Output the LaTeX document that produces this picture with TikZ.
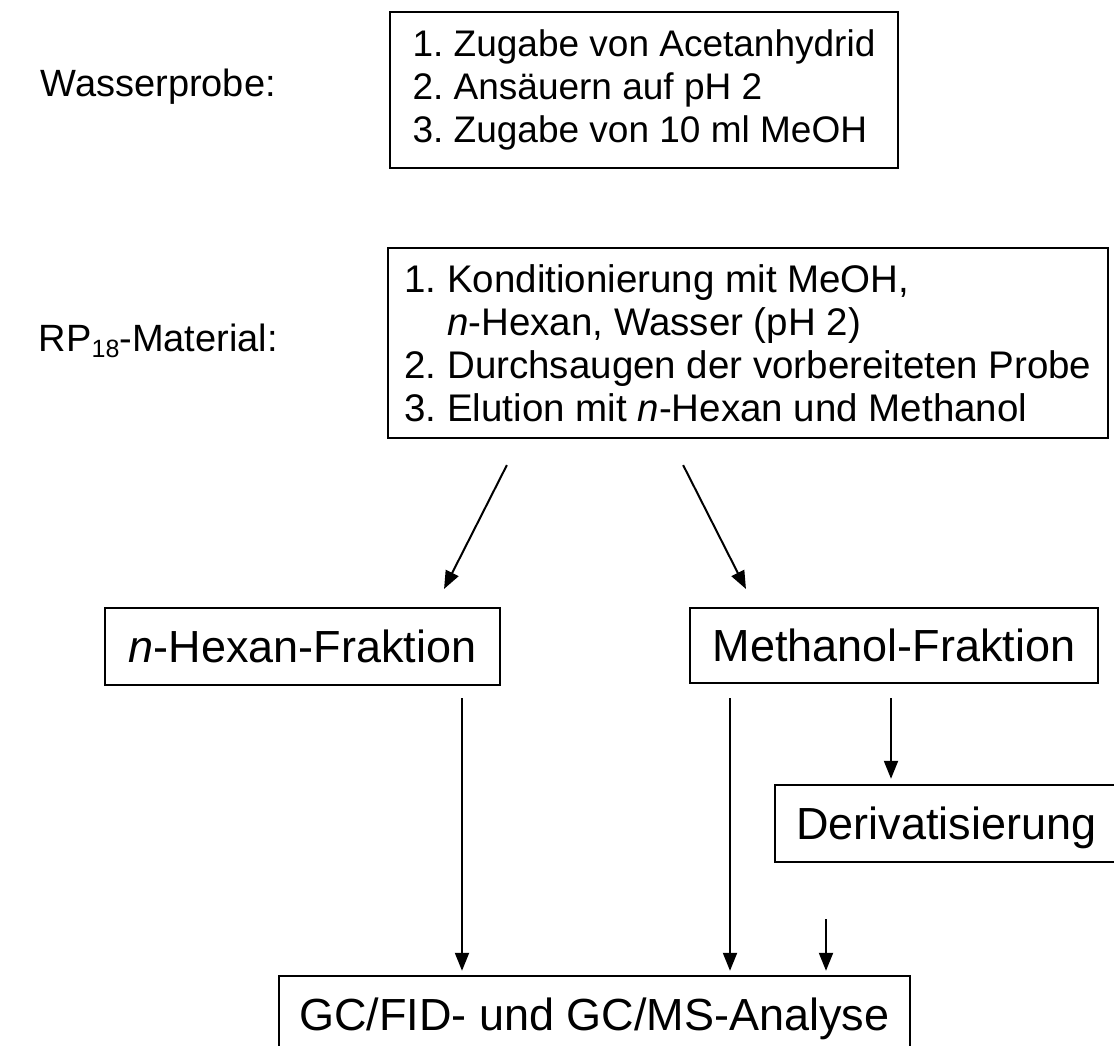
\documentclass[tikz,border=0pt]{standalone}
\usepackage{fontspec}
\setmainfont{Liberation Sans}
\usetikzlibrary{arrows.meta, positioning}
\frenchspacing

\begin{document}
\begin{tikzpicture}[
  x=1pt, y=-1pt,
  lbox/.style={draw, line width=2.4pt, align=left, inner sep=0pt, font=\fontsize{37}{43}\selectfont},
  fbox/.style={draw, line width=2.4pt, inner sep=0pt, text height=40pt, text depth=8pt, font=\fontsize{45}{50}\selectfont},
  lbl/.style={anchor=base east, inner sep=0pt, font=\fontsize{38}{43}\selectfont},
  arr/.style={-{Triangle[length=18pt, width=14pt]}, line width=2pt}
]
  \clip (0,0) rectangle (1114,1045);

  \node[lbl] (wasser) at (276,96) {Wasserprobe:};
  \node[lbox, minimum width=508pt, minimum height=156pt] (zugabe) at (644,90) {
    1. Zugabe von Acetanhydrid\\
    2. Ansäuern auf pH 2\\
    3. Zugabe von 10 ml MeOH
  };

  \node[lbl] (rpmat) at (278,351) {RP\raisebox{-6pt}{\fontsize{25}{25}\selectfont 18}-Material:};
  \node[lbox, font=\fontsize{38.5}{43}\selectfont, minimum width=720pt, minimum height=190pt] (rp) at (748,343) {
    1. Konditionierung mit MeOH,\\
    \phantom{1. }\textit{n}-Hexan, Wasser (pH 2)\\
    2. Durchsaugen der vorbereiteten Probe\\
    3. Elution mit \textit{n}-Hexan und Methanol
  };

  \node[fbox, minimum width=395pt, minimum height=77pt] (hex) at (302.5,646.5) {\textit{n}-Hexan-Fraktion};
  \node[fbox, minimum width=408pt, minimum height=75pt] (meth) at (894,645.5) {Methanol-Fraktion};
  \node[fbox, minimum width=343pt, minimum height=77pt] (deriv) at (946.5,823.5) {Derivatisierung};
  \node[fbox, minimum width=631pt, minimum height=76pt] (gc) at (594.5,1014) {GC/FID- und GC/MS-Analyse};

  % Arrows
  \draw[arr, shorten <=29pt, shorten >=20pt] ([xshift=-228pt]rp.south) -- ([xshift=132.5pt]hex.north);
  \draw[arr, shorten <=29pt, shorten >=20pt] ([xshift=-78pt]rp.south) -- ([xshift=-139pt]meth.north);
  \draw[arr, shorten <=12pt, shorten >=4pt] ([xshift=159.5pt]hex.south) -- ([xshift=-132.5pt]gc.north);
  \draw[arr, shorten <=14pt, shorten >=4pt] ([xshift=-164pt]meth.south) -- ([xshift=135.5pt]gc.north);
  \draw[arr, shorten <=14pt, shorten >=5pt] ([xshift=-3pt]meth.south) -- ([xshift=-55.5pt]deriv.north);
  \draw[arr, shorten <=56pt, shorten >=4pt] ([xshift=-120.5pt]deriv.south) -- ([xshift=231.5pt]gc.north);
\end{tikzpicture}
\end{document}
